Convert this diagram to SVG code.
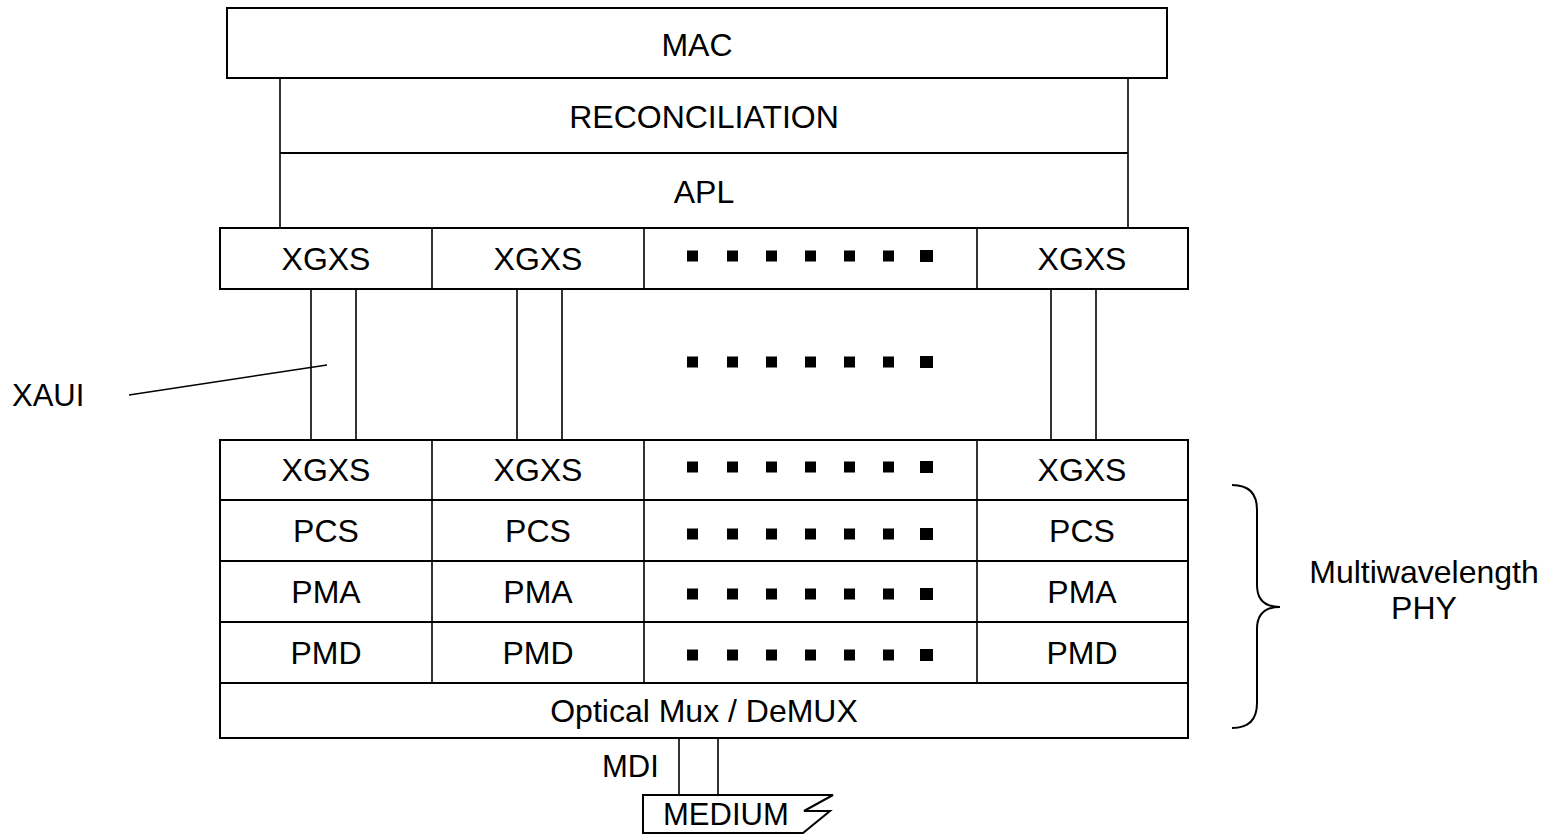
<svg xmlns="http://www.w3.org/2000/svg" width="1549" height="834" viewBox="0 0 1549 834">
<defs>
<style>
.box{fill:#fff;stroke:#000;stroke-width:2}
.ln{fill:none;stroke:#000;stroke-width:1.6}
.t{font-family:"Liberation Sans",Arial,sans-serif;font-size:32px;fill:#000;text-anchor:middle}
.tl{font-family:"Liberation Sans",Arial,sans-serif;font-size:31px;fill:#000}
</style>
<g id="dots">
<rect x="-6" y="-5.5" width="11" height="11"/>
<rect x="34" y="-5.5" width="11" height="11"/>
<rect x="73" y="-5.5" width="11" height="11"/>
<rect x="112" y="-5.5" width="11" height="11"/>
<rect x="151" y="-5.5" width="11" height="11"/>
<rect x="190" y="-5.5" width="11" height="11"/>
<rect x="227" y="-6" width="13" height="12"/>
</g>
</defs>
<rect width="1549" height="834" fill="#fff"/>

<g id="connectors">
<line class="ln" x1="311" y1="289" x2="311" y2="440"/>
<line class="ln" x1="356" y1="289" x2="356" y2="440"/>
<line class="ln" x1="517" y1="289" x2="517" y2="440"/>
<line class="ln" x1="562" y1="289" x2="562" y2="440"/>
<line class="ln" x1="1051" y1="289" x2="1051" y2="440"/>
<line class="ln" x1="1096" y1="289" x2="1096" y2="440"/>
<line class="ln" x1="679" y1="738" x2="679" y2="795"/>
<line class="ln" x1="718" y1="738" x2="718" y2="795"/>
<line class="ln" x1="129" y1="395" x2="327" y2="365"/>
</g>

<g id="mac">
<rect class="box" x="227" y="8" width="940" height="70"/>
<text class="t" x="697" y="56">MAC</text>
</g>
<g id="reconciliation">
<path class="ln" d="M280,78 V228 M1128,78 V228"/>
<line class="box" x1="280" y1="153" x2="1128" y2="153"/>
<text class="t" x="704" y="128">RECONCILIATION</text>
</g>
<g id="apl">
<text class="t" x="704" y="203">APL</text>
</g>

<g id="xgxs-top">
<rect class="box" x="220" y="228" width="968" height="61"/>
<path class="ln" d="M432,228 V289 M644,228 V289 M977,228 V289"/>
<text class="t" x="326" y="270">XGXS</text>
<text class="t" x="538" y="270">XGXS</text>
<use href="#dots" x="693" y="256"/>
<text class="t" x="1082" y="270">XGXS</text>
</g>

<g id="xaui-dots">
<use href="#dots" x="693" y="362"/>
</g>

<g id="xaui-label">
<text class="tl" x="12" y="406">XAUI</text>
</g>

<g id="phy-stack">
<rect class="box" x="220" y="440" width="968" height="298"/>
<path class="box" d="M220,500 H1188 M220,561 H1188 M220,622 H1188 M220,683 H1188"/>
<path class="ln" d="M432,440 V683 M644,440 V683 M977,440 V683"/>
<text class="t" x="326" y="481">XGXS</text>
<text class="t" x="538" y="481">XGXS</text>
<use href="#dots" x="693" y="467"/>
<text class="t" x="1082" y="481">XGXS</text>
<text class="t" x="326" y="542">PCS</text>
<text class="t" x="538" y="542">PCS</text>
<use href="#dots" x="693" y="534"/>
<text class="t" x="1082" y="542">PCS</text>
<text class="t" x="326" y="603">PMA</text>
<text class="t" x="538" y="603">PMA</text>
<use href="#dots" x="693" y="594"/>
<text class="t" x="1082" y="603">PMA</text>
<text class="t" x="326" y="664">PMD</text>
<text class="t" x="538" y="664">PMD</text>
<use href="#dots" x="693" y="655"/>
<text class="t" x="1082" y="664">PMD</text>
<text class="t" x="704" y="722">Optical Mux / DeMUX</text>
</g>

<g id="brace">
<path class="box" fill="none" d="M1232,485 Q1257,485 1257,510 L1257,585 Q1257,607 1280,607 Q1257,607 1257,629 L1257,703 Q1257,728 1232,728"/>
<text class="t" x="1424" y="583">Multiwavelength</text>
<text class="t" x="1424" y="619">PHY</text>
</g>

<g id="mdi">
<text class="tl" x="602" y="777">MDI</text>
</g>

<g id="medium">
<path class="box" d="M643,833 V795 H833 L804,811 H830 L803,833 Z"/>
<text class="tl" x="663" y="825">MEDIUM</text>
</g>
</svg>
